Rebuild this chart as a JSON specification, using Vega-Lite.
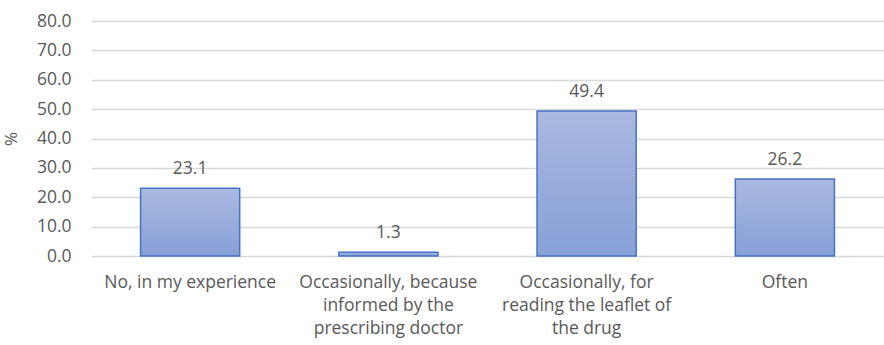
{
  "$schema": "https://vega.github.io/schema/vega-lite/v6.json",
  "width": 793,
  "height": 235,
  "autosize": {"type": "none"},
  "padding": {"left": 91, "top": 21, "right": 0, "bottom": 89},
  "background": "white",
  "config": {"view": {"stroke": null}, "font": "Open Sans"},
  "data": {"values": [
    {"category": "No, in my experience", "value": 23.1},
    {"category": "Occasionally, because|informed by the|prescribing doctor", "value": 1.3},
    {"category": "Occasionally, for|reading the leaflet of|the drug", "value": 49.4},
    {"category": "Often", "value": 26.2}
  ]},
  "encoding": {
    "x": {"field": "category", "type": "nominal", "sort": null,
      "scale": {"paddingInner": 0.5, "paddingOuter": 0.25},
      "axis": {"title": null, "labelAngle": 0, "labelExpr": "split(datum.value, '|')", "labelFontSize": 17.5, "labelColor": "#595959", "labelLineHeight": 23, "labelPadding": 17, "domain": false, "ticks": false, "labelFont": "Open Sans"}},
    "y": {"field": "value", "type": "quantitative",
      "scale": {"domain": [0, 80]},
      "axis": {"title": "%", "titleFont": "Open Sans", "titleFontSize": 17, "titleFontWeight": "normal", "titleColor": "#595959", "titlePadding": 16, "values": [0,10,20,30,40,50,60,70,80], "format": ".1f", "labelFont": "Open Sans", "labelFontSize": 17.5, "labelColor": "#595959", "labelPadding": 20, "domain": false, "ticks": false, "gridColor": "#D9D9D9", "gridWidth": 1.3}}
  },
  "layer": [
    {"mark": {"type": "bar", "stroke": "#4472C4", "strokeWidth": 1.5,
      "color": {"gradient": "linear", "x1": 0, "y1": 0, "x2": 0, "y2": 1,
        "stops": [{"offset": 0, "color": "#AAB9E0"}, {"offset": 1, "color": "#87A0D8"}]}}},
    {"mark": {"type": "text", "baseline": "bottom", "dy": -10, "fontSize": 17.5, "font": "Open Sans", "color": "#595959"},
      "encoding": {"text": {"field": "value", "type": "quantitative", "format": ".1f"}}}
  ]
}
